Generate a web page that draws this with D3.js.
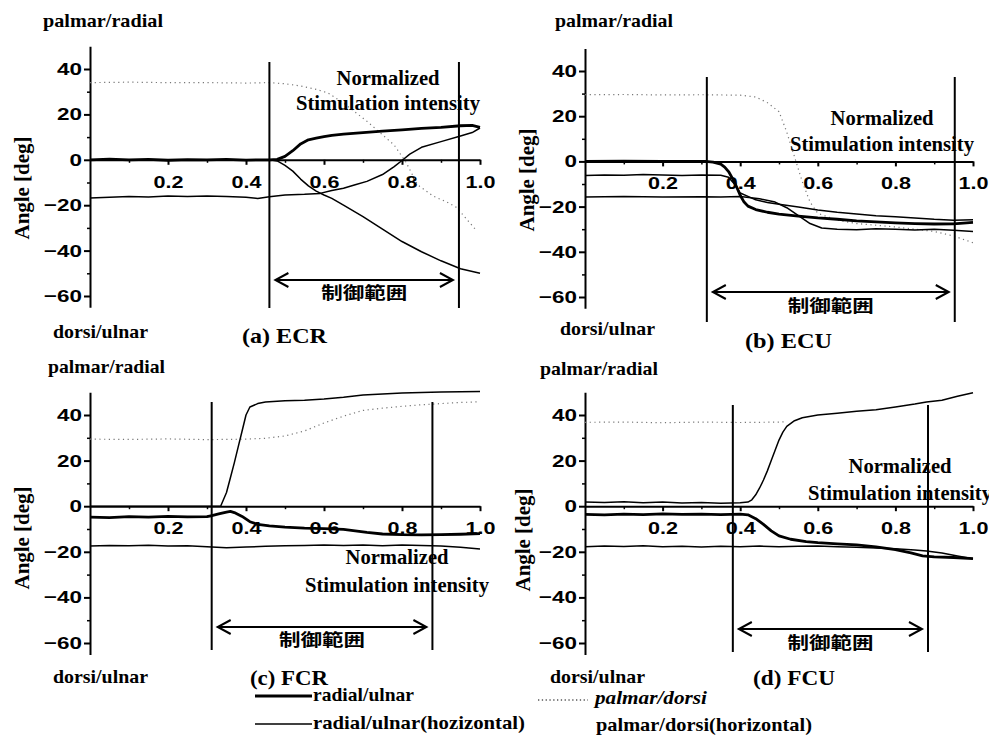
<!DOCTYPE html>
<html><head><meta charset="utf-8">
<script src="https://cdn.jsdelivr.net/npm/d3@7"></script>
<style>body{margin:0;background:#fff}svg{display:block}</style>
</head><body>
<svg id="chart" width="989" height="737"></svg>
<script>
// ---------------- data ----------------
const xTickValues = [0.2, 0.4, 0.6, 0.8, 1.0];
const xMinorTicks = [0.1, 0.3, 0.5, 0.7, 0.9];
const yTickValues = [-60, -40, -20, 0, 20, 40];
const yMinorTicks = [-50, -30, -10, 10, 30];
const panelTitles = ["(a) ECR", "(b) ECU", "(c) FCR", "(d) FCU"];
const controlRanges = [[0.46, 0.946], [0.314, 0.953], [0.312, 0.878], [0.381, 0.884]];
const rangeLabel = "制御範囲";
const legendLabels = ["radial/ulnar", "radial/ulnar(hozizontal)", "palmar/dorsi", "palmar/dorsi(horizontal)"];

// (a) ECR
const ecrRadial = [[0,0],[0.05,0.3],[0.1,0],[0.15,0.2],[0.2,-0.2],[0.25,0.1],[0.3,0],[0.35,0.2],[0.4,-0.1],[0.46,0],[0.48,0.2],[0.5,1.5],[0.52,4],[0.54,7],[0.56,8.8],[0.58,9.5],[0.6,10.2],[0.62,10.8],[0.65,11.3],[0.7,12],[0.75,12.6],[0.8,13.2],[0.85,13.8],[0.9,14.3],[0.95,15],[0.98,15.2],[1.0,14.3]];
const ecrRadialH = [[0,-16.8],[0.05,-16.5],[0.1,-16.2],[0.15,-16.4],[0.2,-16],[0.25,-16.2],[0.3,-16],[0.35,-16.2],[0.4,-16.5],[0.43,-17],[0.46,-16.3],[0.5,-15.5],[0.55,-15.2],[0.59,-14.8],[0.62,-13.5],[0.65,-12.5],[0.68,-11],[0.71,-9.5],[0.75,-6.5],[0.78,-3],[0.8,-0.3],[0.82,2.5],[0.85,5.5],[0.9,8],[0.95,10.5],[0.98,12],[1.0,14]];
const ecrPalmar = [[0,34],[0.1,34.2],[0.2,34],[0.3,34],[0.4,33.8],[0.46,34],[0.5,33.5],[0.54,32.5],[0.58,31],[0.61,29.5],[0.65,25],[0.68,21],[0.71,17],[0.75,11],[0.78,6.5],[0.81,-1],[0.84,-11],[0.88,-16],[0.92,-19],[0.94,-21],[0.97,-27],[0.99,-31]];
const ecrPalmarH = [[0,0],[0.1,0],[0.2,0],[0.3,0],[0.4,0],[0.46,0],[0.48,-0.5],[0.5,-2.5],[0.52,-5],[0.54,-8.5],[0.56,-11.5],[0.58,-13.8],[0.6,-15.5],[0.62,-17],[0.65,-20],[0.7,-25],[0.75,-30.5],[0.8,-36],[0.85,-40.5],[0.9,-44.5],[0.95,-48],[1.0,-50]];

// (b) ECU
const ecuRadial = [[0,0],[0.1,0.1],[0.2,0],[0.31,0],[0.33,-0.3],[0.35,-1.2],[0.36,-2.5],[0.37,-4.5],[0.38,-7.5],[0.39,-11],[0.4,-15],[0.41,-18],[0.42,-19.8],[0.44,-21.3],[0.47,-22.5],[0.5,-23.3],[0.55,-24.2],[0.6,-25],[0.65,-25.6],[0.7,-26.3],[0.75,-26.8],[0.8,-27.2],[0.85,-27.5],[0.9,-27.7],[0.95,-27.6],[1.0,-27]];
const ecuRadialH = [[0,-6.2],[0.05,-6],[0.1,-6.1],[0.15,-5.8],[0.2,-6],[0.25,-6.2],[0.3,-6],[0.35,-6.1],[0.37,-7],[0.39,-11],[0.4,-14],[0.42,-15.5],[0.44,-17],[0.47,-18.2],[0.5,-19],[0.55,-20.2],[0.6,-21.5],[0.65,-22.5],[0.7,-23.3],[0.75,-24],[0.8,-24.5],[0.85,-25],[0.9,-25.6],[0.95,-26],[1.0,-25.8]];
const ecuPalmar = [[0,29.5],[0.1,29.6],[0.2,29.4],[0.3,29.5],[0.4,29.3],[0.44,28.5],[0.47,26],[0.5,22],[0.52,13],[0.54,2],[0.56,-9],[0.58,-18],[0.6,-23],[0.65,-26],[0.7,-27.5],[0.8,-29],[0.9,-31],[0.95,-33],[1.0,-36]];
const ecuPalmarH = [[0,-15.8],[0.1,-15.5],[0.2,-15.8],[0.3,-15.6],[0.35,-15.8],[0.4,-15.5],[0.45,-16.5],[0.49,-18],[0.52,-20.5],[0.55,-24],[0.58,-27.5],[0.61,-29.5],[0.65,-30],[0.7,-30.2],[0.75,-29.8],[0.8,-30],[0.85,-30.3],[0.9,-30],[0.95,-30.5],[1.0,-31]];

// (c) FCR
const fcrRadial = [[0,-4.8],[0.05,-5],[0.1,-4.6],[0.15,-4.8],[0.2,-4.5],[0.25,-4.7],[0.3,-4.6],[0.31,-4.2],[0.33,-3.4],[0.35,-2.6],[0.36,-2.3],[0.37,-2.8],[0.39,-4.5],[0.41,-6.8],[0.43,-8],[0.46,-8.6],[0.5,-9.2],[0.55,-9.6],[0.6,-9.8],[0.65,-10.2],[0.68,-10.8],[0.71,-11.5],[0.75,-12.2],[0.8,-12.5],[0.85,-12.6],[0.9,-12.5],[0.95,-12.3],[1.0,-12]];
const fcrRadialH = [[0,-17.5],[0.05,-17.2],[0.1,-17.4],[0.15,-17.1],[0.2,-17.5],[0.25,-17.3],[0.3,-17.8],[0.35,-18.2],[0.4,-17.9],[0.45,-17.6],[0.5,-17.4],[0.55,-17.2],[0.6,-17],[0.65,-17.2],[0.7,-17],[0.75,-17.3],[0.8,-17],[0.85,-17.2],[0.9,-17.5],[0.95,-18],[1.0,-18.8]];
const fcrPalmar = [[0,29.4],[0.1,29.3],[0.2,29.5],[0.3,29.2],[0.4,29.4],[0.45,29.8],[0.5,30.8],[0.55,33],[0.6,36.5],[0.65,39.5],[0.7,42],[0.75,43],[0.8,43.8],[0.85,44.5],[0.9,45],[0.95,45.5],[1.0,45.8]];
const fcrPalmarH = [[0,0],[0.1,0],[0.2,0],[0.3,0],[0.335,0],[0.35,6],[0.36,12.5],[0.37,19],[0.38,26],[0.39,33],[0.4,40],[0.41,43.5],[0.43,45],[0.45,45.7],[0.5,46.2],[0.55,46.5],[0.6,47],[0.65,47.8],[0.7,48.8],[0.75,49.2],[0.8,49.6],[0.85,49.9],[0.9,50.1],[0.95,50.2],[1.0,50.3]];

// (d) FCU
const fcuRadial = [[0,-3.6],[0.05,-3.8],[0.1,-3.5],[0.15,-3.7],[0.2,-3.4],[0.25,-3.6],[0.3,-3.5],[0.35,-3.7],[0.4,-3.5],[0.42,-3.8],[0.44,-5.5],[0.46,-8],[0.48,-10.8],[0.5,-13],[0.53,-14.5],[0.57,-15.5],[0.6,-16],[0.65,-16.5],[0.7,-17],[0.75,-17.8],[0.8,-19],[0.84,-20.5],[0.87,-21.8],[0.9,-22.2],[0.95,-22.5],[1.0,-23]];
const fcuRadialH = [[0,-17.8],[0.05,-17.5],[0.1,-17.7],[0.15,-17.4],[0.2,-17.8],[0.25,-17.6],[0.3,-17.9],[0.35,-17.6],[0.4,-17.8],[0.45,-17.5],[0.5,-17.8],[0.55,-17.6],[0.6,-17.5],[0.65,-17.8],[0.7,-18],[0.75,-18.3],[0.8,-18.7],[0.85,-19.2],[0.88,-19.6],[0.92,-20.5],[0.96,-21.8],[1.0,-23]];
const fcuPalmar = [[0,36.8],[0.1,36.9],[0.2,36.6],[0.3,36.9],[0.4,36.7],[0.45,36.8],[0.5,36.9],[0.52,37]];
const fcuPalmarH = [[0,1.8],[0.05,1.6],[0.1,1.9],[0.15,1.5],[0.2,1.8],[0.25,1.4],[0.3,1.6],[0.35,1.3],[0.4,1.5],[0.42,1.8],[0.43,2.8],[0.44,5],[0.45,8],[0.46,11.5],[0.47,15.5],[0.48,20],[0.49,24.5],[0.5,29],[0.51,32.5],[0.52,35],[0.54,37.5],[0.56,38.8],[0.6,40],[0.65,40.8],[0.7,41.6],[0.75,42.3],[0.8,43.5],[0.85,44.8],[0.88,45.7],[0.92,46.5],[0.96,48.2],[1.0,49.8]];

const panelSeries = [
  {radial: ecrRadial, radialH: ecrRadialH, palmar: ecrPalmar, palmarH: ecrPalmarH},
  {radial: ecuRadial, radialH: ecuRadialH, palmar: ecuPalmar, palmarH: ecuPalmarH},
  {radial: fcrRadial, radialH: fcrRadialH, palmar: fcrPalmar, palmarH: fcrPalmarH},
  {radial: fcuRadial, radialH: fcuRadialH, palmar: fcuPalmar, palmarH: fcuPalmarH}
];

// ---------------- layout ----------------
const layouts = [
  {x0: 90, x1: 480, y40: 69, yM60: 296, vTop: 62, vBot: 308, arrowY: 280, rangeBase: 299,
   top: [43, 27, 120], norm: [388, 85, 110], bottom: [53, 338, 95], title: [242, 343, 85], angle: [22, 188]},
  {x0: 585, x1: 973, y40: 71, yM60: 297, vTop: 77, vBot: 322, arrowY: 292, rangeBase: 312,
   top: [555, 27, 118], norm: [882, 125, 151], bottom: [560, 335, 95], title: [745, 348, 87], angle: [527, 180]},
  {x0: 90, x1: 480, y40: 415, yM60: 643, vTop: 402, vBot: 650, arrowY: 627, rangeBase: 646,
   top: [48, 373, 117], norm: [397, 564, 592], bottom: [53, 683, 95], title: [250, 685, 78], angle: [22, 538]},
  {x0: 585, x1: 973, y40: 415, yM60: 643, vTop: 405, vBot: 652, arrowY: 629, rangeBase: 649,
   top: [540, 375, 118], norm: [900, 473, 500], bottom: [550, 683, 95], title: [753, 685, 82], angle: [523, 540]}
];

const SERIF = "Liberation Serif";
const SANS = "Liberation Sans";
const CJK = "Noto Sans CJK JP";
const charW = {"0":12.5,"1":12.5,"2":12.5,"4":12.5,"6":12.5,"8":12.5,".":5,"\u2212":13};

const svg = d3.select("#chart");

function txt(g, s, x, y, o) {
  const t = g.append("text").attr("x", x).attr("y", y).text(s)
    .attr("font-family", o.family || SERIF)
    .attr("font-weight", o.weight || "bold")
    .attr("font-size", o.size || 19)
    .attr("text-anchor", o.anchor || "start")
    .attr("fill", "#000");
  if (o.italic) t.attr("font-style", "italic");
  if (o.width) t.attr("textLength", o.width).attr("lengthAdjust", "spacingAndGlyphs");
  if (o.transform) t.attr("transform", o.transform);
  return t;
}
function styleTicks(a) {
  a.selectAll(".tick text")
    .attr("font-family", SANS).attr("font-weight", "bold").attr("font-size", 17).attr("fill", "#000")
    .attr("textLength", function() { return Array.from(this.textContent).reduce((s, c) => s + (charW[c] || 12.5), 0); })
    .attr("lengthAdjust", "spacingAndGlyphs");
}

panelSeries.forEach((ser, i) => {
  const L = layouts[i];
  const g = svg.append("g");
  const x = d3.scaleLinear().domain([0, 1]).range([L.x0, L.x1]);
  const y = d3.scaleLinear().domain([-60, 40]).range([L.yM60, L.y40]);
  const yAx = d3.scaleLinear().domain([-65, 50]).range([y(-65), y(50)]);

  // y axis: minor ticks + axis line
  g.append("g").attr("transform", `translate(${L.x0},0)`)
    .call(d3.axisLeft(yAx).tickValues(yMinorTicks).tickSize(3).tickSizeOuter(0).tickFormat(""))
    .call(a => a.select(".domain").attr("stroke-width", 2))
    .call(a => a.selectAll(".tick line").attr("stroke-width", 1.5));
  // y axis: major ticks with labels
  g.append("g").attr("transform", `translate(${L.x0},0)`)
    .call(d3.axisLeft(yAx).tickValues(yTickValues).tickSize(6).tickSizeOuter(0).tickPadding(2))
    .call(a => a.select(".domain").remove())
    .call(a => a.selectAll(".tick line").attr("stroke-width", 2))
    .call(styleTicks);

  // x axis at y = 0
  g.append("g").attr("transform", `translate(0,${y(0)})`)
    .call(d3.axisBottom(x).tickValues(xMinorTicks).tickSize(3).tickSizeOuter(0).tickFormat(""))
    .call(a => a.select(".domain").attr("stroke-width", 2))
    .call(a => a.selectAll(".tick line").attr("stroke-width", 1.5));
  g.append("g").attr("transform", `translate(0,${y(0)})`)
    .call(d3.axisBottom(x).tickValues(xTickValues).tickSize(5).tickSizeOuter(0).tickPadding(11)
      .tickFormat(d3.format(".1f")))
    .call(a => a.select(".domain").remove())
    .call(a => a.selectAll(".tick line").attr("stroke-width", 2))
    .call(styleTicks);

  // series
  const line = d3.line().x(d => x(d[0])).y(d => y(d[1]));
  g.append("path").datum(ser.palmar).attr("d", line).attr("fill", "none")
    .attr("stroke", "#777").attr("stroke-width", 1.2).attr("stroke-dasharray", "1.2,3.5");
  g.append("path").datum(ser.palmarH).attr("d", line).attr("fill", "none")
    .attr("stroke", "#000").attr("stroke-width", 1.5).attr("stroke-linejoin", "round");
  g.append("path").datum(ser.radialH).attr("d", line).attr("fill", "none")
    .attr("stroke", "#000").attr("stroke-width", 1.5).attr("stroke-linejoin", "round");
  g.append("path").datum(ser.radial).attr("d", line).attr("fill", "none")
    .attr("stroke", "#000").attr("stroke-width", 2.8).attr("stroke-linejoin", "round");

  // control range lines & arrow
  const [r0, r1] = controlRanges[i];
  [r0, r1].forEach(v => {
    g.append("line").attr("x1", x(v)).attr("x2", x(v)).attr("y1", L.vTop).attr("y2", L.vBot)
      .attr("stroke", "#000").attr("stroke-width", 2);
  });
  const ax0 = x(r0) + 6, ax1 = x(r1) - 6, ay = L.arrowY;
  g.append("line").attr("x1", ax0).attr("x2", ax1).attr("y1", ay).attr("y2", ay)
    .attr("stroke", "#000").attr("stroke-width", 2);
  g.append("path").attr("d", `M${ax0 + 13},${ay - 7}L${ax0},${ay}L${ax0 + 13},${ay + 7}`)
    .attr("fill", "none").attr("stroke", "#000").attr("stroke-width", 2);
  g.append("path").attr("d", `M${ax1 - 13},${ay - 7}L${ax1},${ay}L${ax1 - 13},${ay + 7}`)
    .attr("fill", "none").attr("stroke", "#000").attr("stroke-width", 2);
  txt(g, rangeLabel, (ax0 + ax1) / 2, L.rangeBase,
    {family: CJK, size: 17, anchor: "middle", width: 86});

  // texts
  txt(g, "palmar/radial", L.top[0], L.top[1], {size: 19, width: L.top[2]});
  txt(g, "Normalized", L.norm[0], L.norm[1], {size: 20, anchor: "middle", width: 103});
  txt(g, "Stimulation intensity", L.norm[0], L.norm[2], {size: 20, anchor: "middle", width: 184});
  txt(g, "dorsi/ulnar", L.bottom[0], L.bottom[1], {size: 19, width: L.bottom[2]});
  txt(g, panelTitles[i], L.title[0], L.title[1], {size: 22, width: L.title[2]});
  txt(g, "Angle [deg]", 0, 0, {size: 20, anchor: "middle", width: 103,
    transform: `translate(${L.angle[0] + 7},${L.angle[1]}) rotate(-90)`});
});

// ---------------- legend ----------------
const lg = svg.append("g");
lg.append("line").attr("x1", 255).attr("x2", 312).attr("y1", 696).attr("y2", 696)
  .attr("stroke", "#000").attr("stroke-width", 2.8);
lg.append("line").attr("x1", 255).attr("x2", 312).attr("y1", 724).attr("y2", 724)
  .attr("stroke", "#000").attr("stroke-width", 1.5);
lg.append("line").attr("x1", 538).attr("x2", 588).attr("y1", 700).attr("y2", 700)
  .attr("stroke", "#555").attr("stroke-width", 1.3).attr("stroke-dasharray", "1.3,2.5");
txt(lg, legendLabels[0], 313, 701, {size: 19, width: 101});
txt(lg, legendLabels[1], 313, 729, {size: 19, width: 212});
txt(lg, legendLabels[2], 595, 704, {size: 19, width: 112, italic: true});
txt(lg, legendLabels[3], 596, 731, {size: 19, width: 216});
</script>
</body></html>
